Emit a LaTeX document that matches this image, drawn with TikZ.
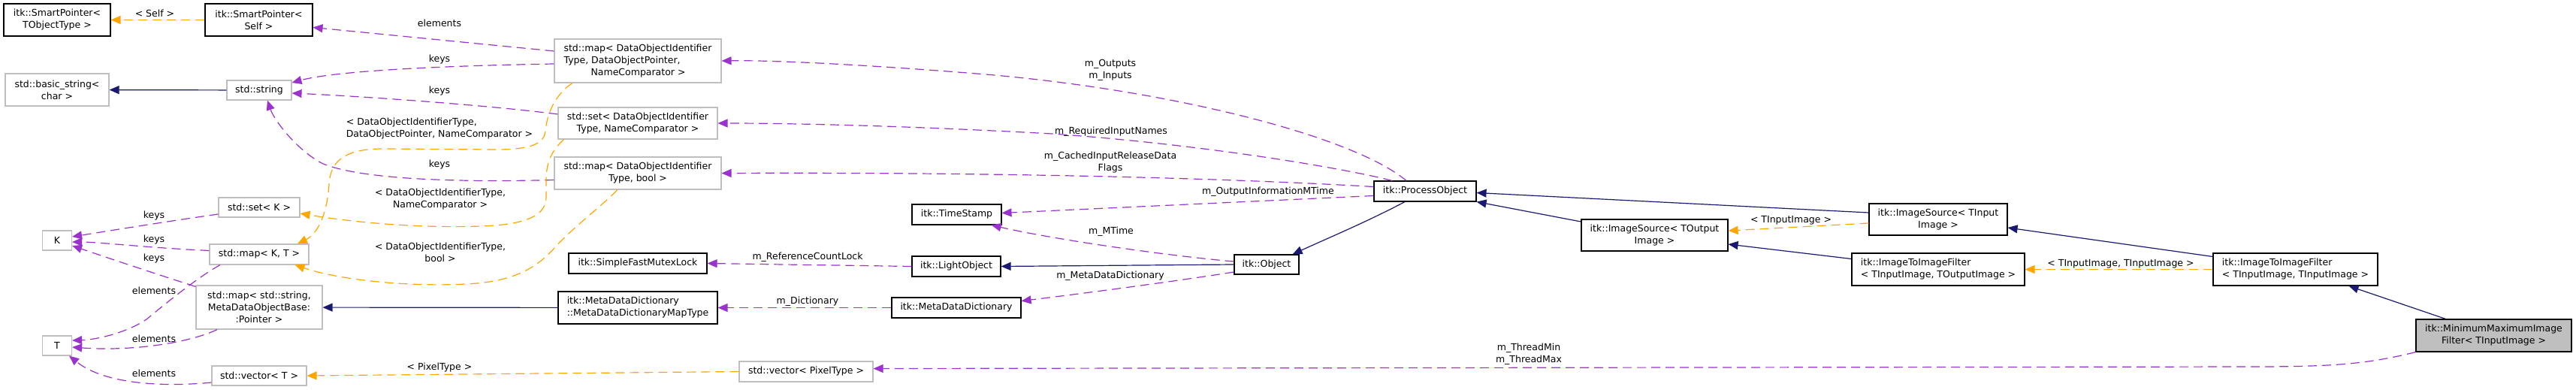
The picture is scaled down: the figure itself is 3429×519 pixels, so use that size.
\documentclass[tikz,border=0pt]{standalone}
\usepackage{fontspec}
\setmainfont{DejaVu Sans}
\usepackage{xcolor}
\usepackage{tikz}
\usetikzlibrary{arrows.meta}
\definecolor{corHeranca}{RGB}{25,25,112}
\definecolor{corMembro}{RGB}{154,50,205}
\definecolor{corModelo}{RGB}{255,165,0}
\definecolor{corCinza}{RGB}{191,191,191}

\begin{document}
\begin{tikzpicture}[x=1pt, y=-1pt, every node/.style={font=\fontsize{12.5}{16}\selectfont}]
    \tikzstyle{classe}=[rectangle, draw=black, line width=1.1pt, fill=white,
      align=center, inner sep=0pt, minimum height=27pt]
    \tikzstyle{externa}=[classe, draw=corCinza]
    \tikzstyle{rotulo}=[inner sep=0pt, align=center]
    \tikzstyle{heranca}=[-{Triangle[length=13pt, width=11pt]}, line width=1.2pt, draw=corHeranca]
    \tikzstyle{membro}=[heranca, draw=corMembro, dash pattern=on 12pt off 7pt]
    \tikzstyle{modelo}=[heranca, draw=corModelo, dash pattern=on 12pt off 7pt]
    \useasboundingbox (0,0) rectangle (3429,519);
    % classes
    \node[classe, minimum width=142pt, minimum height=43pt] (spTObj) at (76,26.5) {itk::SmartPointer<\\TObjectType >};
    \node[classe, minimum width=143pt, minimum height=43pt] (spSelf) at (344.5,26.5) {itk::SmartPointer<\\Self >};
    \node[externa, minimum width=138pt, minimum height=43pt] (basicStr) at (76,119.5) {std::basic\_string<\\char >};
    \node[externa, minimum width=86pt, minimum height=26pt] (stdStr) at (345,120) {std::string};
    \node[externa, minimum width=222pt, minimum height=58pt, align=left] (mapOut) at (849,81) {std::map< DataObjectIdentifier\\Type, DataObjectPointer,\\\hspace*{36pt}NameComparator >};
    \node[externa, minimum width=212pt, minimum height=42pt] (setOut) at (849,164) {std::set< DataObjectIdentifier\\Type, NameComparator >};
    \node[externa, minimum width=222pt, minimum height=43pt] (mapBool) at (849,230.5) {std::map< DataObjectIdentifier\\Type, bool >};
    \node[externa, minimum width=108pt, minimum height=26pt] (setK) at (345,276) {std::set< K >};
    \node[externa, minimum width=39pt, minimum height=26pt] (K) at (76,320) {K};
    \node[externa, minimum width=132pt] (mapKT) at (345,338.5) {std::map< K, T >};
    \node[externa, minimum width=168pt, minimum height=58pt] (mapStr) at (345,409) {std::map< std::string,\\MetaDataObjectBase:\\:Pointer >};
    \node[externa, minimum width=39pt, minimum height=26pt] (T) at (76,460) {T};
    \node[externa, minimum width=126pt, minimum height=26pt] (vecT) at (345,500) {std::vector< T >};
    \node[classe, minimum width=184pt] (mutex) at (849,350.5) {itk::SimpleFastMutexLock};
    \node[classe, minimum width=212pt, minimum height=43pt, align=left] (mapType) at (849,409.5) {itk::MetaDataDictionary\\::MetaDataDictionaryMapType};
    \node[externa, minimum width=178pt] (vecPix) at (1073,494.5) {std::vector< PixelType >};
    \node[classe, minimum width=119pt] (timeStamp) at (1273.5,285.5) {itk::TimeStamp};
    \node[classe, minimum width=118pt] (lightObj) at (1273,354.5) {itk::LightObject};
    \node[classe, minimum width=172pt] (mdd) at (1273,409.5) {itk::MetaDataDictionary};
    \node[classe, minimum width=86pt, minimum height=26pt] (object) at (1686,352) {itk::Object};
    \node[classe, minimum width=136pt] (procObj) at (1897,254.5) {itk::ProcessObject};
    \node[classe, minimum width=195pt, minimum height=42pt] (srcOut) at (2202.5,313) {itk::ImageSource< TOutput\\Image >};
    \node[classe, minimum width=184pt, minimum height=42pt] (srcIn) at (2580,292) {itk::ImageSource< TInput\\Image >};
    \node[classe, minimum width=230pt, minimum height=43pt, align=left] (filtInOut) at (2580,358.5) {itk::ImageToImageFilter\\< TInputImage, TOutputImage >};
    \node[classe, minimum width=219pt, minimum height=43pt, align=left] (filtInIn) at (3055.5,358.5) {itk::ImageToImageFilter\\< TInputImage, TInputImage >};
    \node[classe, fill=corCinza, minimum width=207pt, minimum height=43pt] (minMax) at (3319.5,446.5) {itk::MinimumMaximumImage\\Filter< TInputImage >};
    % rotulos
    \node[rotulo] (lSelf) at (206,18) {< Self >};
    \node[rotulo] (lElemSp) at (585,31) {elements};
    \node[rotulo] (lKeys1) at (585,79) {keys};
    \node[rotulo] (lKeys2) at (585,121) {keys};
    \node[rotulo, align=left] (lTplOut) at (585,171) {< DataObjectIdentifierType,\\DataObjectPointer, NameComparator >};
    \node[rotulo] (lKeys3) at (585,219) {keys};
    \node[rotulo] (lTplSet) at (586,265) {< DataObjectIdentifierType,\\NameComparator >};
    \node[rotulo] (lTplBool) at (586,336) {< DataObjectIdentifierType,\\bool >};
    \node[rotulo] (lKeysSet) at (205,287) {keys};
    \node[rotulo] (lKeysMap) at (205,319) {keys};
    \node[rotulo] (lKeysStr) at (205,344) {keys};
    \node[rotulo] (lElemMap) at (205,387) {elements};
    \node[rotulo] (lElemStr) at (205,451) {elements};
    \node[rotulo] (lElemVec) at (205,497) {elements};
    \node[rotulo] (lPixel) at (585,489) {< PixelType >};
    \node[rotulo] (lLock) at (1075,342) {m\_ReferenceCountLock};
    \node[rotulo] (lDict) at (1075,401) {m\_Dictionary};
    \node[rotulo] (lOutIn) at (1478,93) {m\_Outputs\\m\_Inputs};
    \node[rotulo] (lReq) at (1479,175) {m\_RequiredInputNames};
    \node[rotulo] (lCached) at (1478,216) {m\_CachedInputReleaseData\\Flags};
    \node[rotulo] (lInfo) at (1688,255) {m\_OutputInformationMTime};
    \node[rotulo] (lMTime) at (1479,308) {m\_MTime};
    \node[rotulo] (lMdd) at (1478,367) {m\_MetaDataDictionary};
    \node[rotulo] (lThread) at (2035,471) {m\_ThreadMin\\m\_ThreadMax};
    \node[rotulo] (lTIn) at (2384,293) {< TInputImage >};
    \node[rotulo] (lTInTIn) at (2823,351) {< TInputImage, TInputImage >};
    % ligacoes
    \draw[modelo] (spSelf) -- (spTObj);
    \draw[membro] ([yshift=13pt]mapOut.west) -- ([yshift=-10pt]spSelf.east);
    \draw[membro] ([yshift=-4pt]mapOut.west) .. controls (560,88) and (440,96) .. ([yshift=10pt]stdStr.east);
    \draw[membro] ([yshift=12pt]setOut.west) .. controls (650,140) and (480,128) .. ([yshift=-4pt]stdStr.east);
    \draw[membro] ([yshift=-9pt]mapBool.west) .. controls (600,243) and (480,238) .. (430,218) .. controls (395,200) and (365,160) .. ([xshift=11pt]stdStr.south);
    \draw[modelo] ([xshift=-87pt]mapOut.south) .. controls (740,125) and (728,150) .. (726,175) .. controls (724,192) and (705,199) .. (660,199) -- (510,198) .. controls (465,198) and (440,210) .. (438,245) .. controls (436,280) and (425,310) .. ([xshift=51pt]mapKT.north);
    \draw[modelo] ([xshift=8pt]setOut.south west) .. controls (735,200) and (727,215) .. (727,240) -- (727,262) .. controls (727,285) and (705,299) .. (640,301) .. controls (560,304) and (470,296) .. ([yshift=-8pt]setK.east);
    \draw[modelo] ([xshift=-27pt]mapBool.south) .. controls (800,275) and (760,305) .. (738,330) .. controls (718,352) and (690,375) .. (620,378) .. controls (540,382) and (450,372) .. ([xshift=-19pt]mapKT.south east);
    \draw[membro] ([yshift=5pt]mapKT.west) .. controls (200,330) and (130,322) .. ([yshift=-2pt]K.east);
    \draw[membro] ([yshift=-9pt]setK.west) .. controls (220,295) and (140,308) .. ([yshift=5pt]K.east);
    \draw[membro] ([yshift=-2pt]mapStr.north west) .. controls (200,362) and (140,342) .. ([yshift=-7pt]K.east);
    \draw[membro] ([xshift=-52pt]mapKT.south) .. controls (265,368) and (225,400) .. (195,425) .. controls (170,442) and (130,452) .. ([yshift=7pt]T.east);
    \draw[membro] ([xshift=-56pt]mapStr.south) .. controls (255,455) and (180,468) .. ([yshift=-2pt]T.east);
    \draw[membro] ([yshift=-9pt]vecT.west) .. controls (220,515) and (140,512) .. ([xshift=-4pt]T.south east);
    \draw[heranca] (stdStr) -- (basicStr);
    \draw[heranca] (mapType) -- (mapStr);
    \draw[modelo] (vecPix.west) -- (vecT.east);
    \draw[membro] (lightObj.west) -- (mutex.east);
    \draw[membro] (mdd.west) -- (mapType.east);
    \draw[membro] ([xshift=-25pt]procObj.north) .. controls (1800,180) and (1550,118) .. (1300,98) .. controls (1150,86) and (1030,80) .. (mapOut.east);
    \draw[membro] ([xshift=-44pt]procObj.north) .. controls (1790,224) and (1600,192) .. (1400,178) .. controls (1200,167) and (1050,164) .. (setOut.east);
    \draw[membro] ([yshift=6pt]procObj.west) .. controls (1650,238) and (1350,229) .. (mapBool.east);
    \draw[membro] ([yshift=-6pt]procObj.west) -- ([yshift=2pt]timeStamp.east);
    \draw[membro] ([yshift=4pt]object.west) .. controls (1550,340) and (1400,318) .. ([xshift=-14pt]timeStamp.south east);
    \draw[heranca] (object.west) -- (lightObj.east);
    \draw[membro] ([yshift=-10pt]object.west) .. controls (1560,375) and (1430,392) .. ([yshift=9pt]mdd.east);
    \draw[heranca] ([xshift=-27pt]procObj.south) .. controls (1820,295) and (1765,318) .. ([xshift=-9pt]object.north east);
    \draw[heranca] ([yshift=18pt]srcOut.west) -- (procObj.south east);
    \draw[heranca] ([yshift=9pt]srcIn.west) -- ([yshift=-2pt]procObj.east);
    \draw[modelo] ([yshift=-5pt]srcIn.west) -- ([yshift=6pt]srcOut.east);
    \draw[heranca] ([yshift=14pt]filtInOut.west) -- ([yshift=-12pt]srcOut.east);
    \draw[heranca] ([yshift=17pt]filtInIn.west) -- ([yshift=-11pt]srcIn.east);
    \draw[modelo] (filtInIn.west) -- (filtInOut.east);
    \draw[heranca] ([xshift=-64pt]minMax.north) -- ([xshift=71pt]filtInIn.south);
    \draw[membro] (minMax.south west) .. controls (3150,485) and (3100,488) .. (3000,488) -- ([yshift=4pt]vecPix.east);
  \end{tikzpicture}
\end{document}
